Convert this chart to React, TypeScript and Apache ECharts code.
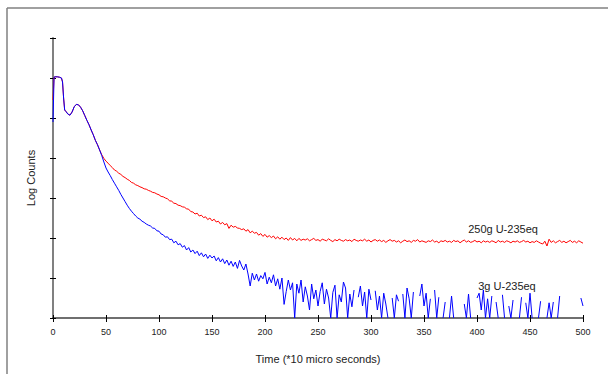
import React, { useEffect, useRef } from "react";
import * as echarts from "echarts";

// Early part of the decay (shared shape), time in units of 10 µs
const earlyTime = [0, 1, 2, 4, 6, 8, 9, 10, 11, 12, 14, 16, 18, 20, 22, 24, 26, 28, 30, 32, 34, 36, 38, 40, 42, 44, 46, 48, 50];
const earlyRed = [5.45, 6.02, 6.03, 6.03, 6.02, 6.0, 5.9, 5.5, 5.2, 5.17, 5.1, 5.07, 5.15, 5.28, 5.34, 5.33, 5.27, 5.18, 5.06, 4.94, 4.83, 4.7, 4.58, 4.44, 4.33, 4.2, 4.08, 3.99, 3.92];
const earlyBlue = [4.9, 6.02, 6.03, 6.03, 6.02, 6.0, 5.9, 5.5, 5.2, 5.17, 5.1, 5.07, 5.15, 5.28, 5.34, 5.33, 5.27, 5.18, 5.06, 4.94, 4.83, 4.7, 4.58, 4.44, 4.33, 4.2, 4.06, 3.9, 3.75];

// Later part, sampled every 2 time units from t = 52 to t = 500
const lateStart = 52;
const lateStep = 2;
const lateRed = [
  3.87, 3.81, 3.76, 3.7, 3.67, 3.62, 3.59, 3.54, 3.51, 3.47,
  3.44, 3.39, 3.37, 3.33, 3.31, 3.28, 3.26, 3.23, 3.22, 3.19,
  3.17, 3.14, 3.13, 3.1, 3.08, 3.04, 3.03, 3.0, 2.98, 2.93,
  2.92, 2.87, 2.86, 2.82, 2.81, 2.78, 2.77, 2.73, 2.72, 2.66,
  2.65, 2.6, 2.62, 2.55, 2.57, 2.51, 2.53, 2.46, 2.5, 2.43,
  2.47, 2.4, 2.42, 2.35, 2.39, 2.33, 2.36, 2.24, 2.32, 2.27,
  2.29, 2.25, 2.24, 2.21, 2.23, 2.17, 2.21, 2.13, 2.17, 2.12,
  2.14, 2.07, 2.11, 2.04, 2.09, 2.02, 2.06, 2.01, 2.05, 1.98,
  2.03, 1.97, 2.02, 1.96, 2.0, 1.94, 2.01, 1.95, 1.99, 1.93,
  1.99, 1.94, 1.97, 1.95, 1.98, 1.93, 1.96, 1.99, 1.94, 1.96,
  1.92, 1.97, 1.95, 1.93, 1.98, 1.94, 1.91, 1.96, 1.93, 1.97,
  1.94, 1.92, 1.96, 1.93, 1.95, 1.91, 1.97, 1.94, 1.92, 1.95,
  1.93, 1.97, 1.92, 1.95, 1.9, 1.94, 1.96, 1.92, 1.95, 1.91,
  1.94, 1.89, 1.93, 1.96, 1.92, 1.94, 1.9, 1.93, 1.88, 1.92,
  1.95, 1.91, 1.93, 1.89, 1.94, 1.92, 1.96, 1.9, 1.93, 1.91,
  1.89, 1.93, 1.91, 1.95, 1.9, 1.92, 1.88, 1.93, 1.91, 1.94,
  1.9, 1.92, 1.89, 1.94, 1.91, 1.93, 1.88, 1.92, 1.95, 1.9,
  1.93, 1.89, 1.91, 1.94, 1.9, 1.92, 1.88, 1.93, 1.9, 1.92,
  1.89, 1.93, 1.91, 1.88, 1.94, 1.9, 1.92, 1.89, 1.93, 1.91,
  1.88, 1.92, 1.9, 1.93, 1.89, 1.91, 1.94, 1.9, 1.92, 1.88,
  1.91, 1.89, 1.93, 1.9, 1.87, 1.85, 1.92, 1.8, 1.97, 1.89,
  1.93, 1.88, 1.91, 1.94, 1.89, 1.92, 1.88, 1.91, 1.94, 1.89,
  1.92, 1.88, 1.93, 1.9, 1.87,
];
const lateBlue: (number | null)[] = [
  3.65, 3.56, 3.46, 3.37, 3.28, 3.19, 3.09, 3.0, 2.91, 2.82,
  2.74, 2.67, 2.61, 2.55, 2.5, 2.47, 2.42, 2.39, 2.35, 2.32,
  2.3, 2.25, 2.24, 2.18, 2.17, 2.1, 2.08, 2.02, 2.03, 1.96,
  1.97, 1.88, 1.92, 1.83, 1.86, 1.77, 1.81, 1.7, 1.76, 1.65,
  1.7, 1.61, 1.67, 1.56, 1.63, 1.53, 1.6, 1.49, 1.57, 1.5,
  1.55, 1.43, 1.51, 1.4, 1.48, 1.36, 1.45, 1.32, 1.42, 1.29,
  1.4, 1.24, 1.44, 1.3, 1.2, 1.35, 1.1, 0.8, 1.12, 0.95,
  1.1, 0.92, 1.06, 0.98, 1.14, 0.85, 1.02, 0.88, 1.08, 0.8,
  0.98, 0.72, 1.0, 0.34, 0.66, 0.95, 0.7, 0.88, 0.0, 0.85,
  0.62, 0.95, 0.4, 0.78, 0.55, 0.2, 0.85, 0.48, 0.7, 0.3,
  0.66, 0.88, 0.35, 0.72, 0.5, 0.0, 0.64, 0.82, 0.0, 0.58,
  0.4, 0.9, 0.75, 0.0, 0.6, 0.28, 0.7, null, 0.52, 0.8,
  0.3, 0.65, 0.0, 0.72, 0.45, null, 0.68, 0.2, 0.55, 0.0,
  0.62, 0.35, 0.0, null, 0.5, 0.0, 0.58, 0.42, null, 0.6,
  0.0, 0.75, 0.48, 0.0, 0.65, null, null, 0.55, 0.85, 0.3,
  0.62, 0.0, 0.48, null, 0.7, 0.0, 0.52, null, 0.0, 0.4,
  null, 0.0, 0.55, 0.0, null, 0.45, null, null, 0.35, 0.0,
  0.6, 0.0, null, null, 0.5, 0.62, 0.2, 0.7, 0.0, 0.48,
  0.0, 0.55, null, 0.4, 0.0, null, 0.58, 0.0, null, 0.3,
  0.0, 0.45, null, null, 0.0, 0.52, null, 0.38, 0.0, 0.62,
  0.0, null, null, 0.0, 0.42, null, null, 0.0, 0.38, 0.0,
  0.4, null, 0.0, 0.55, null, null, 0.32, null, 0.4, null,
  null, 0.35, null, 0.5, 0.3,
];

const seriesNames = ["250g U-235eq", "3g U-235eq"];
const xTicks = { min: 0, max: 500, interval: 50 };
const yTicks = { min: 0, max: 7, interval: 1 };

function buildData(early: number[], late: (number | null)[]) {
  const out: (number | null)[][] = [];
  early.forEach((v, i) => out.push([earlyTime[i], v]));
  late.forEach((v, i) => out.push([lateStart + i * lateStep, v]));
  return out;
}

const FONT = "Liberation Sans, Arial, sans-serif";

export default function App() {
  const ref = useRef<HTMLDivElement>(null);
  useEffect(() => {
    if (!ref.current) return;
    const chart = echarts.init(ref.current, null, { renderer: "svg" });
    const option: any = {
      animation: false,
      backgroundColor: "#ffffff",
      grid: { left: 53, right: 25, top: 38, bottom: 56 },
      xAxis: [
        {
          type: "value",
          ...xTicks,
          axisLine: { show: true, lineStyle: { color: "#404040", width: 1.5 } },
          axisTick: { show: true, length: 4, lineStyle: { color: "#000" } },
          axisLabel: { fontSize: 9, color: "#222", margin: 9, fontFamily: FONT },
          splitLine: { show: false },
        },
        {
          type: "value",
          ...xTicks,
          position: "bottom",
          axisLine: { show: false },
          axisTick: { show: true, inside: true, length: 3, lineStyle: { color: "#000" } },
          axisLabel: { show: false },
          splitLine: { show: false },
        },
      ],
      yAxis: [
        {
          type: "value",
          ...yTicks,
          axisLine: { show: true, lineStyle: { color: "#808080", width: 2 } },
          axisTick: { show: true, length: 3, lineStyle: { color: "#000" } },
          axisLabel: { show: false },
          splitLine: { show: false },
        },
        {
          type: "value",
          ...yTicks,
          position: "left",
          axisLine: { show: false },
          axisTick: { show: true, inside: true, length: 3, lineStyle: { color: "#000" } },
          axisLabel: { show: false },
          splitLine: { show: false },
        },
      ],
      series: [
        {
          name: seriesNames[0],
          type: "line",
          xAxisIndex: 0,
          yAxisIndex: 0,
          data: buildData(earlyRed, lateRed),
          showSymbol: false,
          connectNulls: false,
          lineStyle: { color: "#ff0000", width: 1 },
          itemStyle: { color: "#ff0000" },
        },
        {
          name: seriesNames[1],
          type: "line",
          xAxisIndex: 0,
          yAxisIndex: 0,
          data: buildData(earlyBlue, lateBlue),
          showSymbol: false,
          connectNulls: false,
          lineStyle: { color: "#0000ff", width: 1 },
          itemStyle: { color: "#0000ff" },
        },
      ],
      graphic: [
        { type: "line", shape: { x1: 7, y1: 8, x2: 608, y2: 8 }, style: { stroke: "#808080", lineWidth: 1.5 } },
        { type: "line", shape: { x1: 7, y1: 8, x2: 7, y2: 374 }, style: { stroke: "#808080", lineWidth: 1.5 } },
        {
          type: "text",
          x: 503,
          y: 229,
          style: { text: seriesNames[0], fontSize: 11, fontFamily: FONT, fill: "#222", align: "center", verticalAlign: "middle" },
        },
        {
          type: "text",
          x: 507,
          y: 286,
          style: { text: seriesNames[1], fontSize: 11, fontFamily: FONT, fill: "#222", align: "center", verticalAlign: "middle" },
        },
        {
          type: "text",
          x: 318,
          y: 359,
          style: { text: "Time (*10 micro seconds)", fontSize: 11, fontFamily: FONT, fill: "#222", align: "center", verticalAlign: "middle" },
        },
        {
          type: "text",
          x: 31,
          y: 178,
          rotation: Math.PI / 2,
          style: { text: "Log Counts", fontSize: 11, fontFamily: FONT, fill: "#222", align: "center", verticalAlign: "middle" },
        },
      ],
    };
    chart.setOption(option);
    return () => chart.dispose();
  }, []);
  return <div ref={ref} style={{ position: "absolute", left: 0, top: 0, width: 608, height: 374 }} />;
}
